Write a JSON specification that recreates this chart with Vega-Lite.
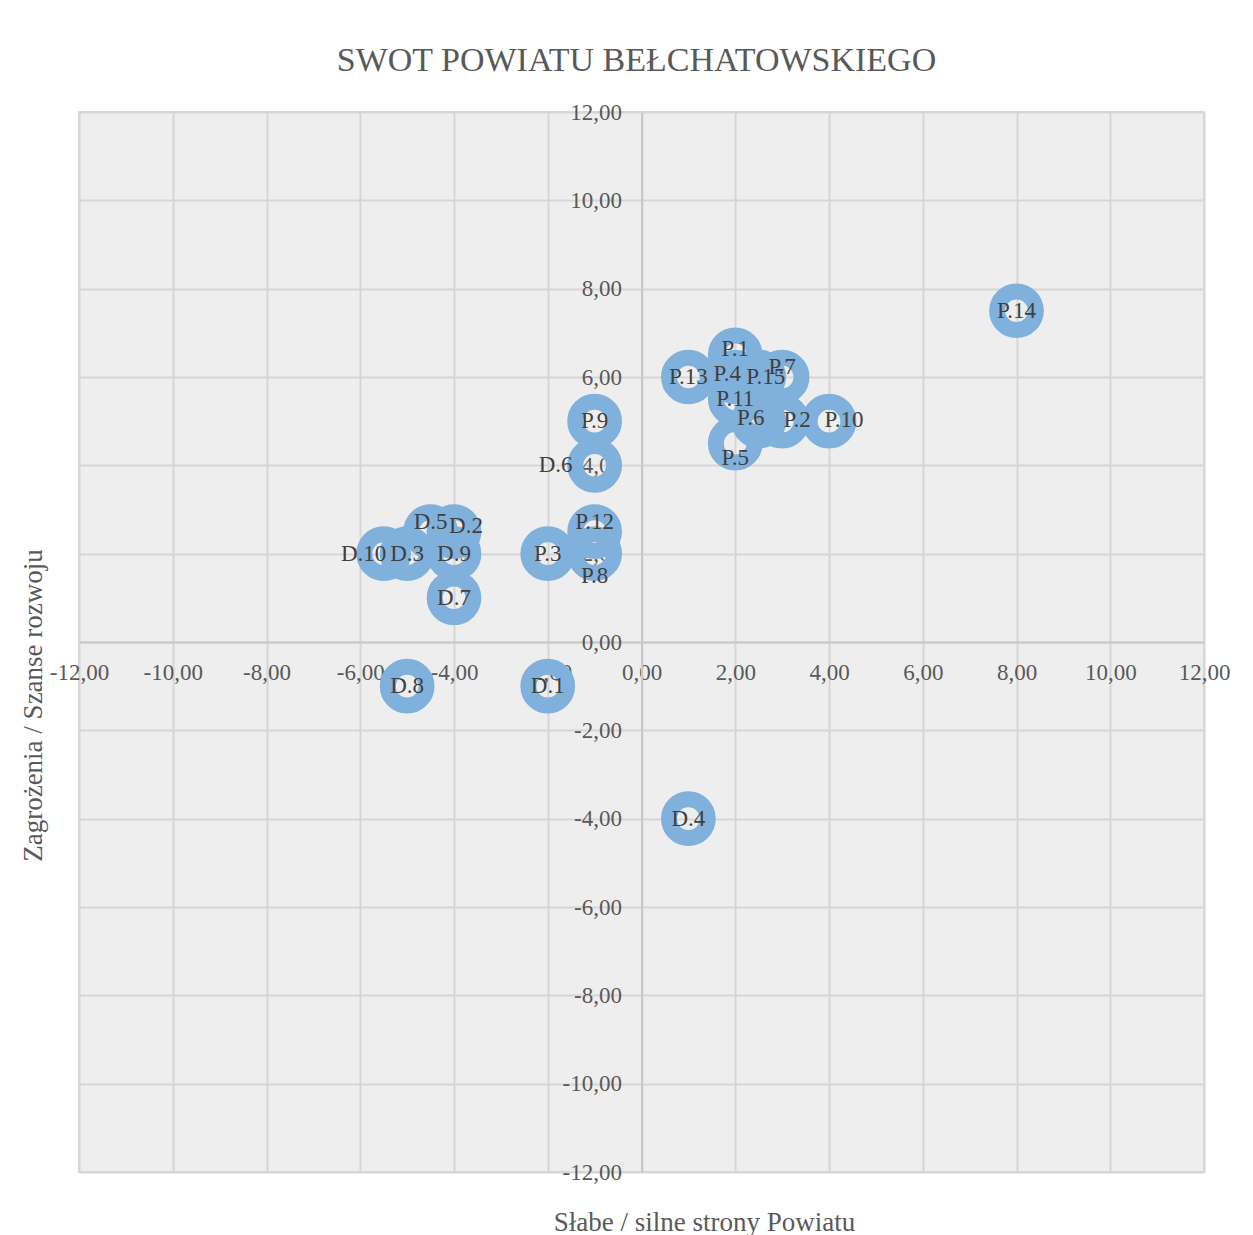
{
  "$schema": "https://vega.github.io/schema/vega-lite/v6.json",
  "autosize": "none",
  "width": 1125,
  "height": 1060,
  "padding": {"left": 79, "top": 112, "right": 49, "bottom": 63},
  "background": "white",
  "title": {"text": "SWOT POWIATU BEŁCHATOWSKIEGO", "font": "Liberation Serif", "fontSize": 34, "fontWeight": "normal", "color": "#595959", "offset": 23, "anchor": "middle", "dx": -5},
  "config": {
    "view": {"fill": "#EEEEEE", "stroke": "#D9D9D9", "strokeWidth": 2},
    "axis": {"labelFont": "Liberation Serif", "titleFont": "Liberation Serif", "labelColor": "#595959", "titleColor": "#595959", "labelFontSize": 23, "titleFontSize": 27, "titleFontWeight": "normal", "gridColor": "#D6D6D6", "gridWidth": 2, "ticks": false, "domainColor": "#C8C8C8", "domainWidth": 2, "labelFlush": false, "labelOverlap": false},
    "text": {"font": "Liberation Serif", "fontSize": 23, "color": "#404040"}
  },
  "data": {"values": [
    {"label": "P.1", "x": 2, "y": 6.5},
    {"label": "P.2", "x": 3, "y": 5},
    {"label": "P.3", "x": -2, "y": 2},
    {"label": "P.4", "x": 2, "y": 6},
    {"label": "P.5", "x": 2, "y": 4.5},
    {"label": "P.6", "x": 2.5, "y": 5},
    {"label": "P.7", "x": 3, "y": 6},
    {"label": "P.8", "x": -1, "y": 2},
    {"label": "P.9", "x": -1, "y": 5},
    {"label": "P.10", "x": 4, "y": 5},
    {"label": "P.11", "x": 2, "y": 5.5},
    {"label": "P.12", "x": -1, "y": 2.5},
    {"label": "P.13", "x": 1, "y": 6},
    {"label": "P.14", "x": 8, "y": 7.5},
    {"label": "P.15", "x": 2.5, "y": 6},
    {"label": "D.1", "x": -2, "y": -1},
    {"label": "D.2", "x": -4, "y": 2.5},
    {"label": "D.3", "x": -5, "y": 2},
    {"label": "D.4", "x": 1, "y": -4},
    {"label": "D.5", "x": -4.5, "y": 2.5},
    {"label": "D.6", "x": -1, "y": 4},
    {"label": "D.7", "x": -4, "y": 1},
    {"label": "D.8", "x": -5, "y": -1},
    {"label": "D.9", "x": -4, "y": 2},
    {"label": "D.10", "x": -5.5, "y": 2}
  ]},
  "encoding": {
    "x": {"field": "x", "type": "quantitative", "scale": {"domain": [-12, 12], "nice": false, "zero": false},
      "axis": {"orient": "bottom", "offset": -530, "values": [-12, -10, -8, -6, -4, -2, 0, 2, 4, 6, 8, 10, 12], "labelPadding": 19,
        "labelExpr": "(datum.value < 0 ? '-' : '') + replace(format(abs(datum.value), '.2f'), '.', ',')",
        "title": "Słabe / silne strony Powiatu", "titleX": 625, "titleY": 580, "titleAlign": "center", "titleBaseline": "middle", "titleAngle": 0}},
    "y": {"field": "y", "type": "quantitative", "scale": {"domain": [-12, 12], "nice": false, "zero": false},
      "axis": {"orient": "left", "offset": -562.5, "values": [-12, -10, -8, -6, -4, -2, 0, 2, 4, 6, 8, 10, 12], "labelPadding": 20,
        "labelExpr": "(datum.value < 0 ? '-' : '') + replace(format(abs(datum.value), '.2f'), '.', ',')",
        "title": "Zagrożenia / Szanse rozwoju", "titleX": -608, "titleY": 593, "titleAlign": "center", "titleBaseline": "middle", "titleAngle": 270}}
  },
  "layer": [
    {"mark": {"type": "point", "shape": "circle", "filled": false, "size": 1500, "strokeWidth": 16, "color": "#80B1DC", "opacity": 1}},
    {"transform": [{"filter": {"not": {"field": "label", "oneOf": ["D.6", "D.10", "P.2", "P.10", "D.2", "P.8", "P.5", "P.7", "P.12", "D.5", "P.1", "P.4", "P.6", "P.15"]}}}],
     "mark": {"type": "text"}, "encoding": {"text": {"field": "label"}}},
    {"transform": [{"filter": {"field": "label", "oneOf": ["D.6"]}}],
     "mark": {"type": "text", "dx": -39}, "encoding": {"text": {"field": "label"}}},
    {"transform": [{"filter": {"field": "label", "oneOf": ["D.10"]}}],
     "mark": {"type": "text", "dx": -20}, "encoding": {"text": {"field": "label"}}},
    {"transform": [{"filter": {"field": "label", "oneOf": ["P.2", "P.10"]}}],
     "mark": {"type": "text", "dx": 15, "dy": -1}, "encoding": {"text": {"field": "label"}}},
    {"transform": [{"filter": {"field": "label", "oneOf": ["D.2"]}}],
     "mark": {"type": "text", "dx": 12, "dy": -6}, "encoding": {"text": {"field": "label"}}},
    {"transform": [{"filter": {"field": "label", "oneOf": ["P.8"]}}],
     "mark": {"type": "text", "dy": 22}, "encoding": {"text": {"field": "label"}}},
    {"transform": [{"filter": {"field": "label", "oneOf": ["P.5"]}}],
     "mark": {"type": "text", "dy": 15}, "encoding": {"text": {"field": "label"}}},
    {"transform": [{"filter": {"field": "label", "oneOf": ["P.7", "P.12", "D.5"]}}],
     "mark": {"type": "text", "dy": -10}, "encoding": {"text": {"field": "label"}}},
    {"transform": [{"filter": {"field": "label", "oneOf": ["P.1"]}}],
     "mark": {"type": "text", "dy": -6}, "encoding": {"text": {"field": "label"}}},
    {"transform": [{"filter": {"field": "label", "oneOf": ["P.4", "P.6"]}}],
     "mark": {"type": "text", "dx": -8, "dy": -3}, "encoding": {"text": {"field": "label"}}},
    {"transform": [{"filter": {"field": "label", "oneOf": ["P.15"]}}],
     "mark": {"type": "text", "dx": 7}, "encoding": {"text": {"field": "label"}}}
  ]
}
